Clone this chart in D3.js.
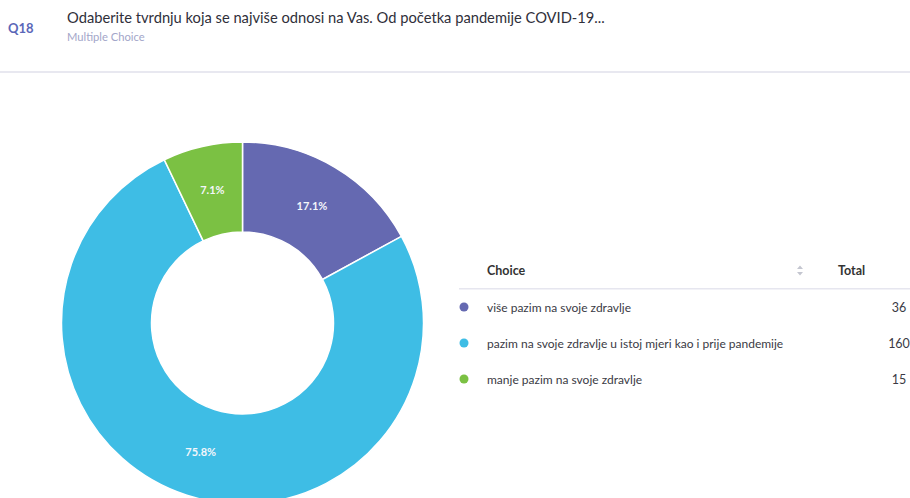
<!DOCTYPE html>
<html lang="hr">
<head>
<meta charset="UTF-8">
<title>Q18 Multiple Choice</title>
<script src="https://d3js.org/d3.v7.min.js"></script>
<style>
  body { margin: 0; background: #fff; font-family: Lato, "Open Sans", sans-serif; }
  svg { display: block; }
</style>
</head>
<body>
<div id="chart"></div>
<script>
// data
const choices = ["više pazim na svoje zdravlje",
                 "pazim na svoje zdravlje u istoj mjeri kao i prije pandemije",
                 "manje pazim na svoje zdravlje"];
const totals = [36, 160, 15];
const colors = ["#6569b1", "#3ebde5", "#7bc143"];

const width = 910, height = 498;

const svg = d3.select("#chart").append("svg")
    .attr("width", width)
    .attr("height", height);

// header
svg.append("text")
    .attr("x", 8).attr("y", 33)
    .attr("font-size", 13).attr("font-weight", "bold")
    .attr("fill", "#5b67b8")
    .text("Q18");

svg.append("text")
    .attr("x", 67).attr("y", 23)
    .attr("font-size", 14.7)
    .attr("fill", "#2f2f3a")
    .text("Odaberite tvrdnju koja se najviše odnosi na Vas. Od početka pandemije COVID-19...");

svg.append("text")
    .attr("x", 67).attr("y", 41)
    .attr("font-size", 11.2)
    .attr("fill", "#a3a6c9")
    .text("Multiple Choice");

svg.append("rect")
    .attr("x", 0).attr("y", 71)
    .attr("width", width).attr("height", 2)
    .attr("fill", "#e8e8f0");

// donut
const cx = 242.5, cy = 323, outerR = 181, innerR = 91;
const total = d3.sum(totals);

const pie = d3.pie().sort(null).value(d => d)(totals);
const arc = d3.arc().innerRadius(innerR).outerRadius(outerR);

const g = svg.append("g").attr("transform", `translate(${cx},${cy})`);

g.selectAll("path")
  .data(pie)
  .join("path")
  .attr("d", arc)
  .attr("fill", (d, i) => colors[i])
  .attr("stroke", "#fff")
  .attr("stroke-width", 1.5);

g.selectAll(".pct")
  .data(pie)
  .join("text")
  .attr("class", "pct")
  .attr("transform", d => `translate(${arc.centroid(d)})`)
  .attr("text-anchor", "middle")
  .attr("dy", "0.35em")
  .attr("font-size", 11)
  .attr("font-weight", "bold")
  .attr("fill", "#f4f6fb")
  .text(d => (d.value / total * 100).toFixed(1) + "%");

// table
const colX = 487, totalX = 899;

svg.append("text")
    .attr("x", colX).attr("y", 275)
    .attr("font-size", 12.5).attr("font-weight", "bold")
    .attr("fill", "#333")
    .text("Choice");

svg.append("text")
    .attr("x", 838).attr("y", 275)
    .attr("font-size", 12.5).attr("font-weight", "bold")
    .attr("fill", "#333")
    .text("Total");

// sort arrows
svg.append("path")
    .attr("d", "M797,269 L800,265.5 L803,269 Z M797,272 L800,275.5 L803,272 Z")
    .attr("fill", "#c4c6d0");

svg.append("rect")
    .attr("x", 459).attr("y", 288)
    .attr("width", width - 459).attr("height", 1.5)
    .attr("fill", "#e6e6ef");

const rowY = d3.scalePoint().domain(d3.range(choices.length)).range([307, 379]);

const rows = svg.selectAll(".row")
  .data(choices)
  .join("g")
  .attr("class", "row")
  .attr("transform", (d, i) => `translate(0,${rowY(i)})`);

rows.append("circle")
    .attr("cx", 464).attr("cy", 0).attr("r", 4.5)
    .attr("fill", (d, i) => colors[i]);

rows.append("text")
    .attr("x", colX).attr("y", 4.5)
    .attr("font-size", 12)
    .attr("fill", "#3a3a44")
    .text(d => d);

rows.append("text")
    .attr("x", totalX).attr("y", 4.5)
    .attr("text-anchor", "middle")
    .attr("font-size", 12.5)
    .attr("fill", "#3a3a44")
    .text((d, i) => totals[i]);
</script>
</body>
</html>
